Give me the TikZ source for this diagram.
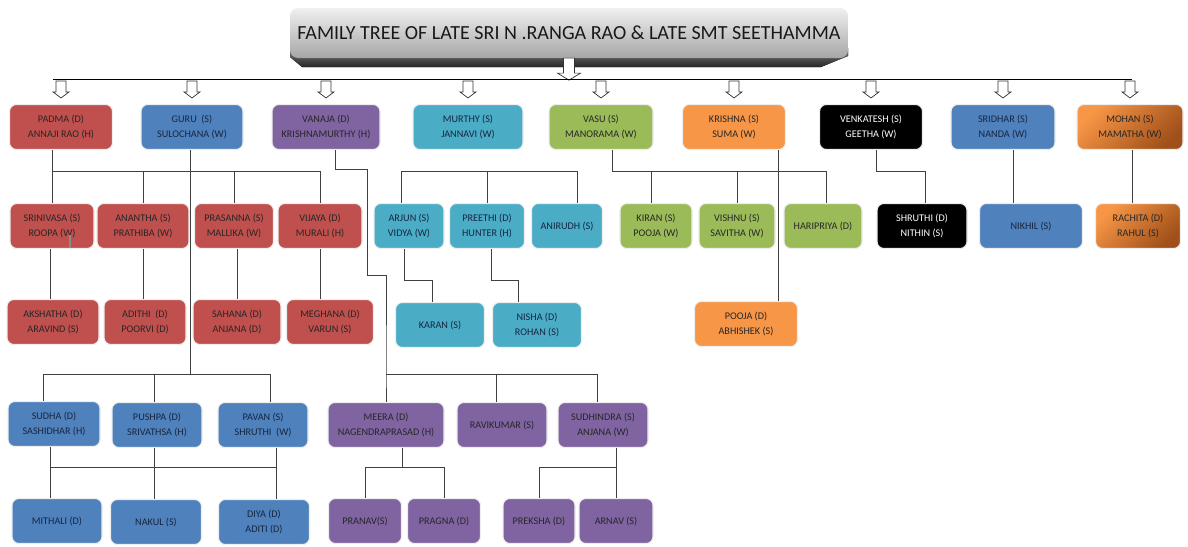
\documentclass[tikz,border=0pt]{standalone}
\usepackage{fontspec}
\setmainfont{Carlito}
\usetikzlibrary{positioning,calc}

\definecolor{offred}{HTML}{C0504D}
\definecolor{offblue}{HTML}{4F81BD}
\definecolor{offpurple}{HTML}{8064A2}
\definecolor{offaqua}{HTML}{4BACC6}
\definecolor{offgreen}{HTML}{9BBB59}
\definecolor{offorange}{HTML}{F79646}
\definecolor{offbrown}{HTML}{A0501A}
\definecolor{navytext}{HTML}{17263F}

\begin{document}
\begin{tikzpicture}[
    x=0.5mm, y=-0.5mm,
    every node/.style={font=\fontsize{14.5}{21}\selectfont},
    box/.style ={rounded corners=3.5mm, minimum height=22.5mm, inner sep=0pt,
                 align=center, draw=black!7, line width=1.5pt, text=black!85},
    bw/.style  ={minimum width=#1*0.5mm},
    redbox/.style   ={box, fill=offred},
    bluebox/.style  ={box, fill=offblue, text=navytext},
    purplebox/.style={box, fill=offpurple},
    aquabox/.style  ={box, fill=offaqua, text=navytext},
    greenbox/.style ={box, fill=offgreen},
    orangebox/.style={box, fill=offorange},
    blackbox/.style ={box, fill=black, text=white},
    brownbox/.style ={box, top color=offorange, bottom color=offbrown,
                      shading angle=45},
    banner/.style={rounded corners=4mm, minimum width=279mm,
                   minimum height=25mm, top color=gray!12, bottom color=gray!70,
                   text=black!90, font=\fontsize{28.5}{32}\selectfont},
    link/.style={draw=black!75, line width=1.3pt},
    hollow/.style={draw=black!80, fill=white, line width=1pt}
  ]
  \useasboundingbox (0,0) rectangle (1188,546);

  % title
  \fill[top color=black!50, bottom color=black!85]
    (290,48) -- (848,48) -- (848,56) -- (821,67) -- (302,67) -- (290,57) -- cycle;
  \node[banner] (title) at (569,33)
    {FAMILY TREE OF LATE SRI N .RANGA RAO \& LATE SMT SEETHAMMA};

  % children
  \node[redbox,    bw=103] (padma)     at (61,127)   {PADMA (D)\\ANNAJI RAO (H)};
  \node[bluebox,   bw=102] (guru)      at (192,127)  {GURU~ (S)\\SULOCHANA (W)};
  \node[purplebox, bw=108] (vanaja)    at (326,127)  {VANAJA (D)\\KRISHNAMURTHY (H)};
  \node[aquabox,   bw=110] (murthy)    at (468,127)  {MURTHY (S)\\JANNAVI (W)};
  \node[greenbox,  bw=104] (vasu)      at (601,127)  {VASU (S)\\MANORAMA (W)};
  \node[orangebox, bw=103] (krishna)   at (734,127)  {KRISHNA (S)\\SUMA (W)};
  \node[blackbox,  bw=103] (venkatesh) at (871,127)  {VENKATESH (S)\\GEETHA (W)};
  \node[bluebox,   bw=104] (sridhar)   at (1003,127) {SRIDHAR (S)\\NANDA (W)};
  \node[brownbox,  bw=106] (mohan)     at (1130,127) {MOHAN (S)\\MAMATHA (W)};

  % grandchildren
  \node[redbox,    bw=84]  (srinivasa) at (52,226)   {SRINIVASA (S)\\ROOPA (W)};
  \node[redbox,    bw=92]  (anantha)   at (143,226)  {ANANTHA (S)\\PRATHIBA (W)};
  \node[redbox,    bw=79]  (prasanna)  at (234,226)  {PRASANNA (S)\\MALLIKA (W)};
  \node[redbox,    bw=84]  (vijaya)    at (320,226)  {VIJAYA (D)\\MURALI (H)};
  \node[aquabox,   bw=70]  (arjun)     at (409,226)  {ARJUN (S)\\VIDYA (W)};
  \node[aquabox,   bw=75]  (preethi)   at (487,226)  {PREETHI (D)\\HUNTER (H)};
  \node[aquabox,   bw=71]  (anirudh)   at (567,226)  {ANIRUDH (S)};
  \node[greenbox,  bw=72]  (kiran)     at (656,226)  {KIRAN (S)\\POOJA (W)};
  \node[greenbox,  bw=76]  (vishnu)    at (737,226)  {VISHNU (S)\\SAVITHA (W)};
  \node[greenbox,  bw=78]  (haripriya) at (823,226)  {HARIPRIYA (D)};
  \node[blackbox,  bw=90]  (shruthi)   at (922,226)  {SHRUTHI (D)\\NITHIN (S)};
  \node[bluebox,   bw=103] (nikhil)    at (1031,226) {NIKHIL (S)};
  \node[brownbox,  bw=85]  (rachita)   at (1138,226) {RACHITA (D)\\RAHUL (S)};

  \node[redbox,    bw=92]  (akshatha)  at (53,322)   {AKSHATHA (D)\\ARAVIND (S)};
  \node[redbox,    bw=82]  (adithi)    at (145,322)  {ADITHI~ (D)\\POORVI (D)};
  \node[redbox,    bw=88]  (sahana)    at (237,322)  {SAHANA (D)\\ANJANA (D)};
  \node[redbox,    bw=87]  (meghana)   at (330,322)  {MEGHANA (D)\\VARUN (S)};
  \node[aquabox,   bw=89]  (karan)     at (440,325)  {KARAN (S)};
  \node[aquabox,   bw=89]  (nisha)     at (537,325)  {NISHA (D)\\ROHAN (S)};
  \node[orangebox, bw=103] (pooja)     at (746,324)  {POOJA (D)\\ABHISHEK (S)};

  \node[bluebox,   bw=92]  (sudha)     at (54,424)   {SUDHA (D)\\SASHIDHAR (H)};
  \node[bluebox,   bw=90]  (pushpa)    at (157,425)  {PUSHPA (D)\\SRIVATHSA (H)};
  \node[bluebox,   bw=90]  (pavan)     at (263,425)  {PAVAN (S)\\SHRUTHI~ (W)};
  \node[purplebox, bw=116] (meera)     at (386,425)  {MEERA (D)\\NAGENDRAPRASAD (H)};
  \node[purplebox, bw=90]  (ravikumar) at (502,425)  {RAVIKUMAR (S)};
  \node[purplebox, bw=90]  (sudhindra) at (603,425)  {SUDHINDRA (S)\\ANJANA (W)};

  \node[bluebox,   bw=90]  (mithali)   at (57,521)   {MITHALI (D)};
  \node[bluebox,   bw=91]  (nakul)     at (156,522)  {NAKUL (S)};
  \node[bluebox,   bw=91]  (diya)      at (264,522)  {DIYA (D)\\ADITI (D)};
  \node[purplebox, bw=73]  (pranav)    at (365,521)  {PRANAV(S)};
  \node[purplebox, bw=73]  (pragna)    at (444,521)  {PRAGNA (D)};
  \node[purplebox, bw=72]  (preksha)   at (539,521)  {PREKSHA (D)};
  \node[purplebox, bw=74]  (arnav)     at (616,521)  {ARNAV (S)};

  \coordinate (topbar) at (0,79);
  \coordinate (midbar) at (0,171);
  \coordinate (lowbar) at (0,374);
  \coordinate (endbar) at (0,467);

  % title to children
  \draw[hollow] ($(title.south)+(-5.5,0)$) -- ++(0,15) -- ++(-6,0) -- ++(11.5,7)
    -- ++(11.5,-7) -- ++(-6,0) -- ++(0,-15) -- cycle;
  \draw[link, draw=black] ($(padma.north |- topbar)+(-8,0)$) -- ($(mohan.north |- topbar)+(2,0)$);
  \foreach \n in {padma,guru,vanaja,murthy,vasu,krishna,venkatesh,sridhar,mohan}
    \draw[hollow] ($(\n.north)+(-5,-23)$) -- ++(0,11) -- ++(-3,0) -- ++(8,6)
      -- ++(8,-6) -- ++(-3,0) -- ++(0,-11) -- cycle;

  % padma
  \draw[link] (srinivasa.north |- padma.south) -- (srinivasa.north);
  \draw[link] (srinivasa.north |- midbar) -- (vijaya.north |- midbar);
  \foreach \n in {anantha,prasanna,vijaya}
    \draw[link] (\n.north |- midbar) -- (\n.north);
  \draw[link] ($(srinivasa.south)+(-2,0)$) -- ($(srinivasa.south |- akshatha.north)+(-2,0)$);
  \draw[link] (anantha.south) -- (anantha.south |- adithi.north);
  \draw[link] ($(prasanna.south)+(3,0)$) -- ($(prasanna.south |- sahana.north)+(3,0)$);
  \draw[link] (vijaya.south) -- (vijaya.south |- meghana.north);
  \draw[black!45, line width=2pt] ($(srinivasa.south)+(18,-1)$) -- ++(0,-13);

  % guru
  \draw[link] ($(guru.south)+(-2,0)$) -- ($(guru.south |- lowbar)+(-2,0)$);
  \draw[link] ($(sudha.north)+(-11,0)$) |- ($(pavan.north |- lowbar)+(7,0)$)
    -- ($(pavan.north)+(7,0)$);
  \draw[link] ($(pushpa.north |- lowbar)+(-3,0)$) -- ($(pushpa.north)+(-3,0)$);
  \draw[link] ($(sudha.south |- endbar)+(-4,0)$) -- ($(pavan.south |- endbar)+(13,0)$);
  \draw[link] ($(sudha.south)+(-4,0)$) -- ($(sudha.south |- mithali.north)+(-4,0)$);
  \draw[link] ($(pushpa.south)+(-3,0)$) -- ($(pushpa.south |- nakul.north)+(-3,0)$);
  \draw[link] ($(pavan.south)+(13,0)$) -- ($(pavan.south |- diya.north)+(13,0)$);

  % vanaja
  \draw[link] ($(vanaja.south)+(9,0)$) -- ++(0,19) -- ++(32,0) -- ++(0,106)
    -| (meera.north |- lowbar) -- (meera.north);
  \draw[link] (meera.north |- lowbar) -| ($(sudhindra.north)+(-6,0)$);
  \draw[link] ($(ravikumar.north |- lowbar)+(-6,0)$) -- ($(ravikumar.north)+(-6,0)$);
  \draw[link] ($(meera.south)+(16,0)$) -- ($(meera.south |- endbar)+(16,0)$);
  \draw[link] (pranav.north) |- (pragna.north |- endbar) -- (pragna.north);
  \draw[link] ($(sudhindra.south)+(13,0)$) -- (arnav.north);
  \draw[link] (preksha.north) |- (arnav.north |- endbar);

  % murthy
  \draw[link] ($(arjun.north)+(-8,0)$) |- ($(anirudh.north |- midbar)+(10,0)$)
    -- ($(anirudh.north)+(10,0)$);
  \draw[link] (preethi.north |- midbar) -- (preethi.north);
  \draw[link] ($(arjun.south)+(-5,0)$) -- ++(0,31) -| ($(karan.north)+(-8,0)$);
  \draw[link] ($(preethi.south)+(4,0)$) -- ++(0,31) -| ($(nisha.north)+(-19,0)$);

  % vasu, krishna, venkatesh, sridhar, mohan
  \draw[link] ($(vasu.south)+(11,0)$) |- ($(haripriya.north |- midbar)+(3,0)$)
    -- ($(haripriya.north)+(3,0)$);
  \draw[link] ($(kiran.north |- midbar)+(-5,0)$) -- ($(kiran.north)+(-5,0)$);
  \draw[link] (vishnu.north |- midbar) -- (vishnu.north);
  \draw[link] ($(krishna.south)+(44,0)$) -- ($(krishna.south |- pooja.north)+(44,0)$);
  \draw[link] ($(venkatesh.south)+(5,0)$) |- ($(shruthi.north |- midbar)+(3,0)$)
    -- ($(shruthi.north)+(3,0)$);
  \draw[link] ($(sridhar.south)+(10,0)$) -- ($(sridhar.south |- nikhil.north)+(10,0)$);
  \draw[link] ($(mohan.south)+(2,0)$) -- ($(mohan.south |- rachita.north)+(2,0)$);
\end{tikzpicture}
\end{document}
